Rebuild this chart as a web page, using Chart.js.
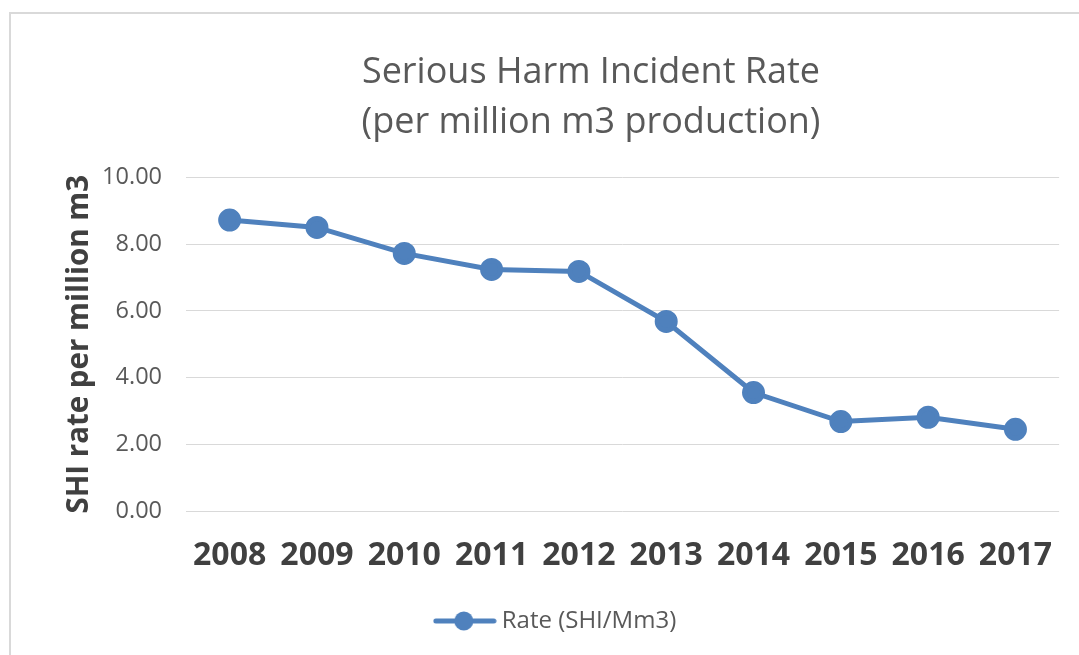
<!DOCTYPE html>
<html>
<head>
<meta charset="utf-8">
<script src="https://cdn.jsdelivr.net/npm/chart.js@4/dist/chart.umd.min.js"></script>
<style>
  html, body { margin: 0; padding: 0; background: #fff; overflow: hidden; }
  #wrap { position: absolute; left: 0; top: 0; width: 1079px; height: 655px; }
  #frame { position: absolute; left: 9px; top: 12px; width: 1200px; height: 800px;
           border: 2px solid #d9d9d9; pointer-events: none; }
</style>
</head>
<body>
<div id="wrap"><canvas id="shiChart" width="1079" height="655"></canvas></div>
<div id="frame"></div>
<script>
// data
const years = ['2008', '2009', '2010', '2011', '2012', '2013', '2014', '2015', '2016', '2017'];
const rates = [8.72, 8.50, 7.72, 7.24, 7.18, 5.68, 3.55, 2.68, 2.81, 2.45];
const yTicks = [0, 2, 4, 6, 8, 10];

const blue = '#4f81bd';
const font = "'Open Sans', 'Liberation Sans', sans-serif";

// legend marker: short line with a dot in the middle
const marker = document.createElement('canvas');
marker.width = 64;
marker.height = 22;
(function () {
    const c = marker.getContext('2d');
    c.strokeStyle = blue;
    c.lineWidth = 5;
    c.lineCap = 'round';
    c.beginPath();
    c.moveTo(3, 11);
    c.lineTo(61, 11);
    c.stroke();
    c.fillStyle = blue;
    c.beginPath();
    c.arc(31, 11, 9.5, 0, Math.PI * 2);
    c.fill();
})();

// title and legend in the reference sit a bit right of the canvas centre
const shiftBoxes = {
    id: 'shiftBoxes',
    afterLayout(chart) {
        const t = chart.titleBlock;
        if (t) { t.left += 61; t.right += 61; }
        const l = chart.legend;
        if (l) { l.left += 28; l.right += 28; }
    }
};

new Chart(document.getElementById('shiChart'), {
    type: 'line',
    data: {
        labels: years,
        datasets: [{
            label: 'Rate (SHI/Mm3)',
            data: rates,
            borderColor: blue,
            backgroundColor: blue,
            borderWidth: 5,
            pointRadius: 9,
            pointHoverRadius: 9,
            tension: 0
        }]
    },
    plugins: [shiftBoxes],
    options: {
        responsive: false,
        animation: false,
        layout: { padding: { left: 0, right: 19, top: 0, bottom: 12 } },
        plugins: {
            title: {
                display: true,
                text: ['Serious Harm Incident Rate', '(per million m3 production)'],
                color: '#595959',
                font: { family: font, size: 36, weight: 'normal', lineHeight: 1.38 },
                padding: { top: 48, bottom: 30 }
            },
            legend: {
                position: 'bottom',
                labels: {
                    color: '#595959',
                    font: { family: font, size: 24 },
                    usePointStyle: true,
                    pointStyleWidth: 50,
                    padding: 10,
                    generateLabels: (chart) => chart.data.datasets.map((ds, i) => ({
                        text: ds.label,
                        pointStyle: marker,
                        fillStyle: blue,
                        strokeStyle: blue,
                        lineWidth: 0,
                        fontColor: '#595959',
                        datasetIndex: i
                    }))
                }
            },
            tooltip: { enabled: false }
        },
        scales: {
            x: {
                offset: true,
                grid: { display: false, drawTicks: false },
                border: { display: false },
                ticks: {
                    color: '#404040',
                    font: { family: font, size: 32, weight: 'bold' },
                    padding: 26,
                    maxRotation: 0
                },
                afterFit: (s) => { s.height = 88; }
            },
            y: {
                min: 0,
                max: 10,
                afterBuildTicks: (s) => { s.ticks = yTicks.map(v => ({ value: v })); },
                grid: { color: '#d9d9d9', lineWidth: 1, drawTicks: false },
                border: { display: false },
                ticks: {
                    color: '#595959',
                    font: { family: font, size: 23.5 },
                    padding: 24,
                    callback: (v) => Number(v).toFixed(2)
                },
                title: {
                    display: true,
                    text: 'SHI rate per million m3',
                    color: '#404040',
                    font: { family: font, size: 29.5, weight: 'bold' },
                    padding: { top: 62, bottom: 0 }
                },
                afterFit: (s) => { s.width = 186; }
            }
        }
    }
});
</script>
</body>
</html>
